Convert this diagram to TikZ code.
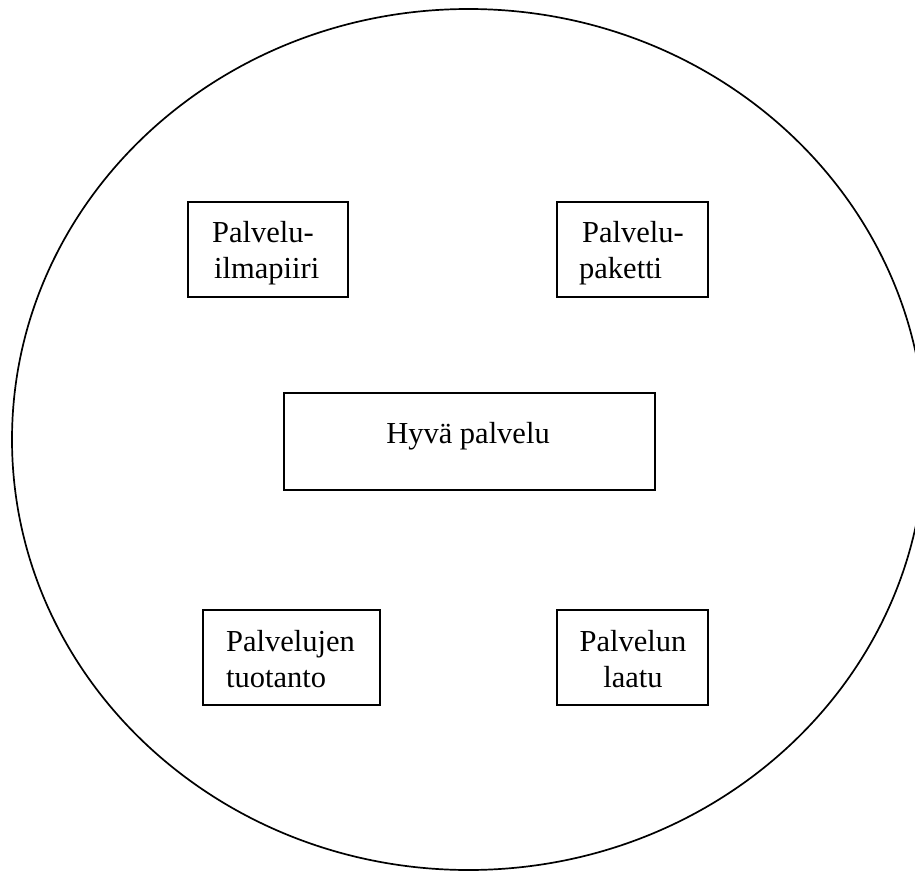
\documentclass[tikz,border=0pt]{standalone}
\usepackage{fontspec}
\setmainfont{Liberation Serif}
\begin{document}
\begin{tikzpicture}[x=1bp,y=-1bp,
  boxframe/.style={draw=black,line width=2.4bp,inner sep=0pt},
  lbl/.style={inner sep=0pt,font=\fontsize{30.5bp}{36bp}\selectfont}]
\useasboundingbox (0,0) rectangle (915,872);
% outer ellipse, slightly wider than the page on the right
\draw[line width=1.7bp] (468.5,439.5) ellipse [x radius=456.5, y radius=430.5];
% boxes
\draw[boxframe] (188,202) rectangle (348,297);
\node[boxframe,minimum width=160bp,minimum height=95bp] (ilma) at (268,249.5) {};
\node[boxframe,minimum width=151bp,minimum height=95bp] (paketti) at (632.5,249.5) {};
\node[boxframe,minimum width=371bp,minimum height=97bp] (hyva) at (469.5,441.5) {};
\node[boxframe,minimum width=177bp,minimum height=95bp] (tuotanto) at (291.5,657.5) {};
\node[boxframe,minimum width=151bp,minimum height=95bp] (laatu) at (632.5,657.5) {};
% labels
\node[lbl,anchor=base west] (t1a) at (212,242) {Palvelu-};
\node[lbl,anchor=base west] (t1b) at (214,278) {ilmapiiri};
\node[lbl,anchor=base west] (t2a) at (582,242) {Palvelu-};
\node[lbl,anchor=base west] (t2b) at (579,278) {paketti};
\node[lbl,anchor=base] (t3) at (468,443) {Hyvä palvelu};
\node[lbl,anchor=base west] (t4a) at (226,651) {Palvelujen};
\node[lbl,anchor=base west] (t4b) at (226,687) {tuotanto};
\node[lbl,anchor=base] (t5a) at (633,651) {Palvelun};
\node[lbl,anchor=base] (t5b) at (633,687) {laatu};
\end{tikzpicture}
\end{document}
